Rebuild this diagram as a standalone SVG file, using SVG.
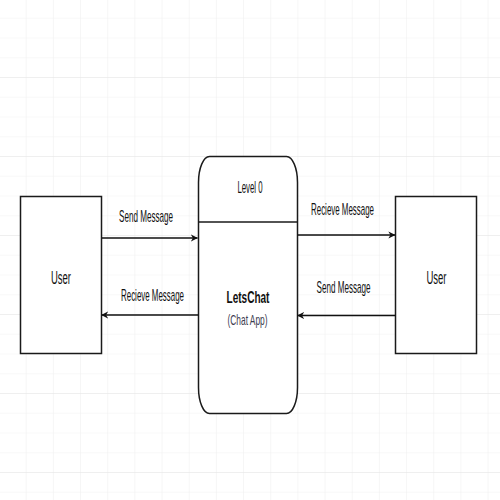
<svg xmlns="http://www.w3.org/2000/svg" width="500" height="500" viewBox="0 0 500 500">
  <defs>
    <pattern id="gridV" patternUnits="userSpaceOnUse" x="-0.5" y="0" width="27.17" height="500">
      <line x1="27.17" y1="0" x2="27.17" y2="500" stroke="#ededed" stroke-width="1"/>
    </pattern>
    <pattern id="gridH" patternUnits="userSpaceOnUse" x="0" y="-1" width="500" height="19.75">
      <line x1="0" y1="19.75" x2="500" y2="19.75" stroke="#f2f2f2" stroke-width="1"/>
    </pattern>
    <pattern id="gridM" patternUnits="userSpaceOnUse" x="0" y="-1" width="500" height="79">
      <line x1="0" y1="79" x2="500" y2="79" stroke="#e6e6e6" stroke-width="1.2"/>
    </pattern>
    <marker id="arrow" viewBox="0 0 10 10" refX="9.5" refY="5" markerUnits="userSpaceOnUse" markerWidth="7" markerHeight="11" orient="auto">
      <path d="M0,0 L10,5 L0,10 L3,5 Z" fill="#111"/>
    </marker>
    <style>
      .box { fill: #ffffff; stroke: #1a1a1a; stroke-width: 1.5; }
      .conn { stroke: #111111; stroke-width: 1.7; fill: none; marker-end: url(#arrow); }
      .lbl { font-family: "Liberation Sans", Arial, sans-serif; font-size: 17px; fill: #111111; text-anchor: middle; }
      .big { font-size: 19px; }
      .bold { font-weight: bold; }
      .sub { fill: #3c3c50; font-size: 14px; }
    </style>
  </defs>
  <rect x="0" y="0" width="500" height="500" fill="#ffffff"/>
  <rect x="0" y="0" width="500" height="500" fill="url(#gridH)"/>
  <rect x="0" y="0" width="500" height="500" fill="url(#gridV)"/>
  <rect x="0" y="0" width="500" height="500" fill="url(#gridM)"/>

  <g id="user-left">
    <rect class="box" x="20.5" y="196.5" width="81" height="157"/>
    <text class="lbl big" transform="translate(61,284) scale(0.5,1)">User</text>
  </g>

  <g id="user-right">
    <rect class="box" x="395.5" y="196.5" width="81" height="157"/>
    <text class="lbl big" transform="translate(436.5,284) scale(0.5,1)">User</text>
  </g>

  <g id="letschat">
    <rect class="box" x="198.5" y="156.5" width="99" height="257" rx="11" ry="26"/>
    <line x1="198.5" y1="222" x2="297.5" y2="222" stroke="#1a1a1a" stroke-width="1.5"/>
    <text class="lbl" transform="translate(250,193) scale(0.46,1)">Level 0</text>
    <text class="lbl bold" transform="translate(248,303) scale(0.59,1)">LetsChat</text>
    <text class="lbl sub" transform="translate(247.5,325) scale(0.6,1)">(Chat App)</text>
  </g>

  <g id="connectors">
    <line class="conn" x1="102" y1="238" x2="197.5" y2="238"/>
    <line class="conn" x1="198.5" y1="315" x2="101.5" y2="315"/>
    <line class="conn" x1="297.5" y1="235" x2="395" y2="235"/>
    <line class="conn" x1="395.5" y1="315.5" x2="297.5" y2="315.5"/>
    <text class="lbl" transform="translate(146,222) scale(0.476,1)">Send Message</text>
    <text class="lbl" transform="translate(152.5,301) scale(0.466,1)">Recieve Message</text>
    <text class="lbl" transform="translate(342.5,214.5) scale(0.466,1)">Recieve Message</text>
    <text class="lbl" transform="translate(343.5,293) scale(0.476,1)">Send Message</text>
  </g>
</svg>
